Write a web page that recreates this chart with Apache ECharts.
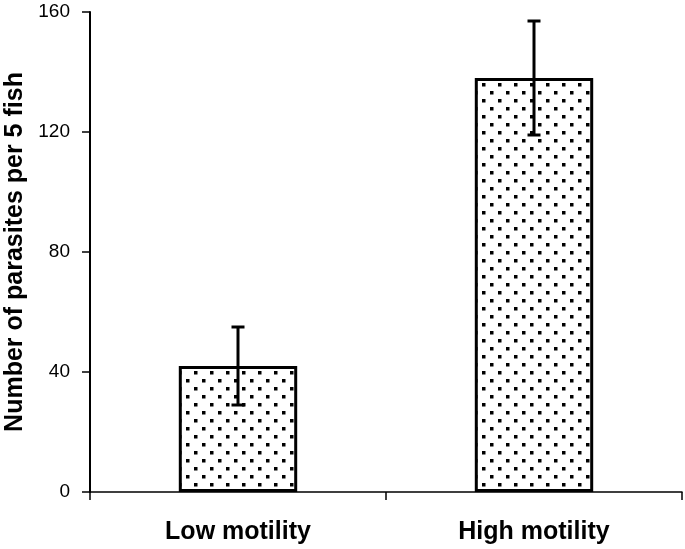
<!DOCTYPE html>
<html>
<head>
<meta charset="utf-8">
<script src="https://cdn.jsdelivr.net/npm/echarts@6/dist/echarts.min.js"></script>
<style>html,body{margin:0;padding:0;background:#fff;}#c{width:685px;height:549px;}</style>
</head>
<body>
<div id="c"></div>
<script>
var categories = ['Low motility', 'High motility'];
var means = [42, 138];
var errLow = [29, 119];
var errHigh = [55, 157];
var yTicks = [0, 40, 80, 120, 160];

function makePattern() {
  var c = document.createElement('canvas');
  c.width = 16; c.height = 16;
  var ctx = c.getContext('2d');
  ctx.fillStyle = '#fff';
  ctx.fillRect(0, 0, 16, 16);
  ctx.fillStyle = '#000';
  ctx.fillRect(2, 3, 3.5, 3.5);
  ctx.fillRect(10, 11, 3.5, 3.5);
  return c;
}

var FONT = 'Liberation Sans, Arial, Helvetica, sans-serif';
var chart = echarts.init(document.getElementById('c'), null, {renderer: 'canvas'});
var errData = categories.map(function (c, i) { return [i, errLow[i], errHigh[i]]; });

chart.setOption({
  backgroundColor: '#fff',
  animation: false,
  grid: {left: 90, right: 3, top: 12, bottom: 57, containLabel: false, outerBoundsMode: 'none'},
  xAxis: {
    type: 'category',
    data: categories,
    axisLine: {lineStyle: {color: '#000', width: 1.5}},
    axisTick: {show: true, length: 8, lineStyle: {color: '#000', width: 1.5}},
    axisLabel: {color: '#000', fontFamily: FONT, fontWeight: 'bold', fontSize: 25, margin: 28}
  },
  yAxis: {
    type: 'value',
    min: yTicks[0], max: yTicks[yTicks.length - 1], interval: 40,
    name: 'Number of parasites per 5 fish',
    nameLocation: 'middle',
    nameGap: 61,
    nameTextStyle: {color: '#000', fontFamily: FONT, fontWeight: 'bold', fontSize: 25},
    axisLine: {show: true, lineStyle: {color: '#000', width: 2}},
    axisTick: {show: true, length: 8, lineStyle: {color: '#000', width: 1.5}},
    axisLabel: {color: '#000', fontFamily: FONT, fontSize: 19, margin: 20},
    splitLine: {show: false}
  },
  series: [
    {
      type: 'bar',
      data: means,
      barWidth: '40%',
      itemStyle: {
        color: {image: makePattern(), repeat: 'repeat'},
        borderColor: '#000',
        borderWidth: 3
      },
      z: 2
    },
    {
      type: 'custom',
      data: errData,
      z: 5,
      renderItem: function (params, api) {
        var x = api.value(0);
        var lo = api.coord([x, api.value(1)]);
        var hi = api.coord([x, api.value(2)]);
        var hw = 6.5;
        var st = {stroke: '#000', lineWidth: 3};
        return {
          type: 'group',
          children: [
            {type: 'line', shape: {x1: hi[0], y1: hi[1], x2: lo[0], y2: lo[1]}, style: st},
            {type: 'line', shape: {x1: hi[0] - hw, y1: hi[1], x2: hi[0] + hw, y2: hi[1]}, style: st},
            {type: 'line', shape: {x1: lo[0] - hw, y1: lo[1], x2: lo[0] + hw, y2: lo[1]}, style: st}
          ]
        };
      }
    }
  ]
});
</script>
</body>
</html>
